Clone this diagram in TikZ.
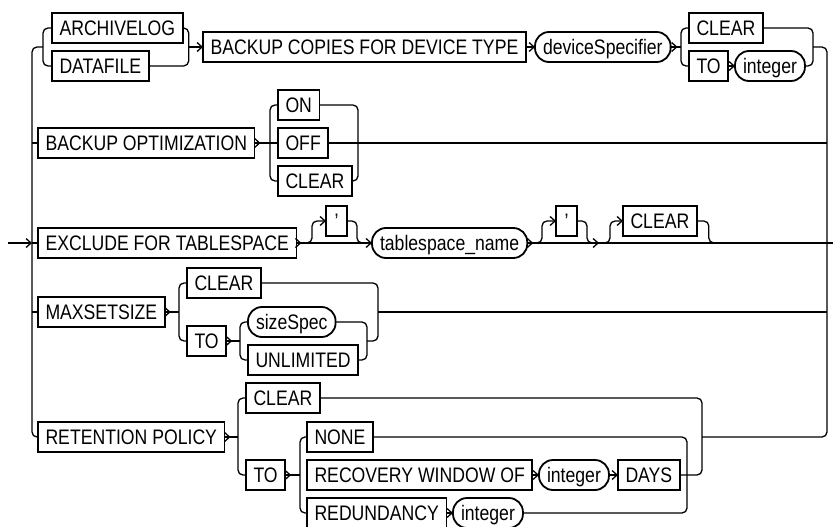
\documentclass[tikz,border=0pt]{standalone}
\usepackage{fontspec}
\setmainfont{Liberation Sans}[FakeStretch=0.84]
\usetikzlibrary{arrows.meta}
\tikzset{
  kw/.style={draw, line width=1.8pt, rectangle, minimum height=30pt, inner xsep=7.5pt, inner ysep=0pt,
     text height=15pt, text depth=0pt, anchor=west, outer sep=0pt},
  var/.style={kw, rounded corners=14pt, inner xsep=8pt},
  qt/.style={kw, minimum width=21pt, inner xsep=0pt},
  ln/.style={line width=1.3pt, rounded corners=5pt},
  arr/.style={line width=1.3pt, -{Straight Barb[length=5pt,width=9pt]}},
  arrln/.style={ln, -{Straight Barb[length=5pt,width=9pt]}}
}
\begin{document}
\begin{tikzpicture}[x=1pt,y=-1pt,font=\fontsize{21}{25}\selectfont]
\useasboundingbox (0,0) rectangle (833,527);
\fill[white] (0,0) rectangle (833,527);
% rails / junction x positions
\coordinate (L) at (32,0);
\coordinate (R) at (827,0);
\coordinate (J1) at (813,0);
\coordinate (J2) at (358,0);
\coordinate (J4i) at (367,0);
\coordinate (J4o) at (378,0);
\coordinate (Ji) at (687,0);
\coordinate (Jo) at (702,0);
\coordinate (entry) at (8,243);
\coordinate (exit) at (833,243);
% ---------- row 1
\node[kw] (arch) at (52,28) {ARCHIVELOG};
\node[kw] (dataf) at (52,66) {DATAFILE};
\node[kw] (bcopies) at (203,47) {BACKUP COPIES FOR DEVICE TYPE};
\node[var] (devspec) at (535,47) {deviceSpecifier};
\node[kw] (clear1) at (689,28) {CLEAR};
\node[kw] (to1) at (689,66) {TO};
\node[var] (int1) at (735,66) {integer};
% ---------- row 2
\node[kw] (bo) at (38,143) {BACKUP OPTIMIZATION};
\node[kw] (on) at (278,105) {ON};
\node[kw] (off) at (278,143) {OFF};
\node[kw] (clear2) at (278,181) {CLEAR};
% ---------- row 3
\node[kw] (excl) at (38,243) {EXCLUDE FOR TABLESPACE};
\node[qt] (q1) at (326,221) {\textquoteright};
\node[var] (tsn) at (372,243) {tablespace\_name};
\node[qt] (q2) at (556,221) {\textquoteright};
\node[kw] (clear3) at (623,221) {CLEAR};
\coordinate (m2) at (599,243);
% ---------- row 4
\node[kw] (maxs) at (38,312) {MAXSETSIZE};
\node[kw] (clear4) at (187,283) {CLEAR};
\node[kw] (to4) at (187,341) {TO};
\node[var] (size) at (248,322) {sizeSpec};
\node[kw] (unl) at (248,360) {UNLIMITED};
% ---------- row 5
\node[kw] (ret) at (38,437) {RETENTION POLICY};
\node[kw] (clear5) at (246,398) {CLEAR};
\node[kw] (to5) at (246,475) {TO};
\node[kw] (none) at (307,437) {NONE};
\node[kw] (rec) at (307,475) {RECOVERY WINDOW OF};
\node[var] (int2) at (539,475) {integer};
\node[kw] (days) at (618,475) {DAYS};
\node[kw] (red) at (307,513) {REDUNDANCY};
\node[var] (int3) at (453,513) {integer};

% ---------- rails
\draw[ln] (ret.west) -- (L |- ret.west) -- (L |- bcopies.west) -- ([xshift=-9pt]arch.west |- bcopies.west);
\draw[ln] (J1 |- bcopies.west) -- (R |- bcopies.west) -- (R |- ret.west) -- (Jo |- ret.west);
\draw[arr] (entry) -- (L |- excl.west);
\draw[ln] (L |- excl.west) -- (excl.west);
\draw[ln] (L |- bo.west) -- (bo.west);
\draw[ln] (L |- maxs.west) -- (maxs.west);

% ---------- row 1
\draw[ln] (arch.west) -- ++(-9,0) |- (dataf.west);
\draw[ln] (arch.east) -- ++(6,0) |- (dataf.east);
\draw[arr] ([xshift=6pt]arch.east |- bcopies.west) -- (bcopies.west);
\draw[arr] (bcopies.east) -- (devspec.west);
\draw[ln] (devspec.east) -- ([xshift=-8pt]clear1.west |- devspec.east);
\draw[arr] (devspec.east) -- ++(7,0);
\draw[ln] (clear1.west) -- ++(-8,0) |- (to1.west);
\draw[arr] (to1.east) -- (int1.west);
\draw[ln] (clear1.east) -| (J1 |- int1.east) -- (int1.east);

% ---------- row 2
\draw[ln] (bo.east) -- (off.west);
\draw[arr] (bo.east) -- ++(6,0);
\draw[ln] (on.west) -- ++(-8,0) |- (clear2.west);
\draw[ln] (on.east) -| (J2 |- clear2.east) -- (clear2.east);
\draw[ln] (off.east) -- (R |- off.east);

% ---------- row 3
\draw[arr] (excl.east) -- (tsn.west);
\draw[arr] (excl.east) -- ++(5,0);
\draw[arrln] ([xshift=5pt]excl.east) -| ([xshift=-14pt]q1.west |- q1.west) -- (q1.west);
\draw[ln] (q1.east) -| ([xshift=10pt]q1.east |- tsn.west) -- ([xshift=-4pt]tsn.west);
\draw[ln] (tsn.east) -- (R |- tsn.east) -- (exit);
\draw[arr] (tsn.east) -- ++(6,0);
\draw[arr] (tsn.east) -- (m2);
\draw[arrln] ([xshift=6pt]tsn.east) -| ([xshift=-14pt]q2.west |- q2.west) -- (q2.west);
\draw[ln] (q2.east) -| ([xshift=10pt]q2.east |- tsn.east) -- ([xshift=-4pt]m2);
\draw[arrln] (m2) -| ([xshift=-13pt]clear3.west |- clear3.west) -- (clear3.west);
\draw[ln] (clear3.east) -| ([xshift=12pt]clear3.east |- tsn.east) -- ([xshift=20pt]clear3.east |- tsn.east);

% ---------- row 4
\draw[ln] (maxs.east) -- ([xshift=-8pt]clear4.west |- maxs.east);
\draw[arr] (maxs.east) -- ++(6,0);
\draw[ln] (clear4.west) -- ++(-8,0) |- (to4.west);
\draw[ln] (to4.east) -- ([xshift=-8pt]size.west |- to4.east);
\draw[arr] (to4.east) -- ++(6,0);
\draw[ln] (size.west) -- ++(-8,0) |- (unl.west);
\draw[ln] (size.east) -| (J4i |- unl.east) -- (unl.east);
\draw[ln] (clear4.east) -| (J4o |- to4.east) -- (J4i |- to4.east);
\draw[ln] (J4o |- maxs.east) -- (R |- maxs.east);

% ---------- row 5
\draw[ln] (ret.east) -- ([xshift=-8pt]clear5.west |- ret.east);
\draw[arr] (ret.east) -- ++(6,0);
\draw[ln] (clear5.west) -- ++(-8,0) |- (to5.west);
\draw[ln] (to5.east) -- ([xshift=-7pt]none.west |- to5.east);
\draw[arr] (to5.east) -- ++(6,0);
\draw[ln] (none.west) -- ++(-7,0) |- (red.west);
\draw[arr] (rec.east) -- (int2.west);
\draw[arr] (int2.east) -- (days.west);
\draw[arr] (red.east) -- (int3.west);
\draw[ln] (none.east) -| (Ji |- int3.east) -- (int3.east);
\draw[ln] (clear5.east) -| (Jo |- days.east) -- (days.east);
\end{tikzpicture}
\end{document}
